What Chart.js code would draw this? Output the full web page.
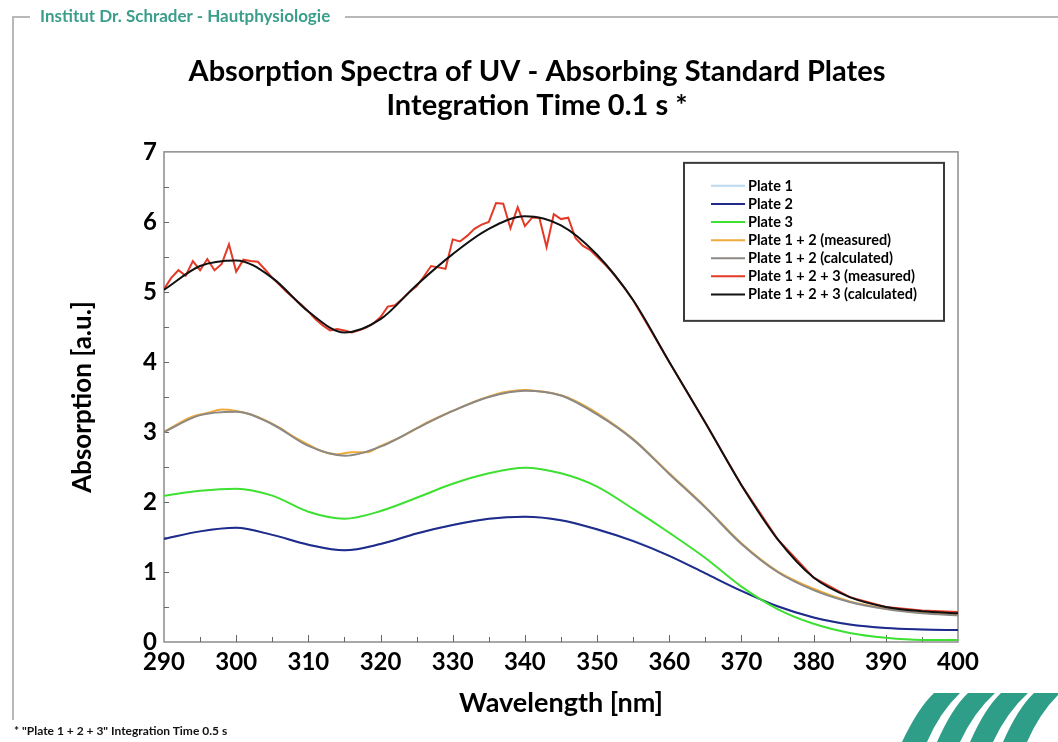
<!DOCTYPE html>
<html>
<head>
<meta charset="utf-8">
<title>Absorption Spectra of UV - Absorbing Standard Plates</title>
<script src="https://cdn.jsdelivr.net/npm/chart.js@4.4.1/dist/chart.umd.min.js"></script>
<style>
  html, body { margin: 0; padding: 0; background: #fff; }
  #page { position: relative; width: 1058px; height: 742px; overflow: hidden; background: #fff; }
  #myChart { position: absolute; left: 0; top: 0; }
  .frame-h { position: absolute; height: 2px; background: #b8b8b8; top: 16px; }
  .frame-v { position: absolute; width: 2px; background: #b8b8b8; left: 12px; top: 16px; height: 704px; }
  .header { position: absolute; left: 40px; top: 5px; font: bold 17px Lato, sans-serif; color: #3a9e8a; white-space: nowrap; }
  .footnote { position: absolute; left: 14px; top: 723px; font: bold 12px Lato, sans-serif; color: #111; white-space: nowrap; }
  #logo { position: absolute; left: 880px; top: 680px; }
</style>
</head>
<body>
<div id="page">
  <canvas id="myChart" width="1058" height="742"></canvas>
  <div class="frame-h" style="left:12px;width:18px"></div>
  <div class="frame-h" style="left:345px;width:713px"></div>
  <div class="frame-v"></div>
  <div class="header">Institut Dr. Schrader - Hautphysiologie</div>
  <div class="footnote">* "Plate 1 + 2 + 3" Integration Time 0.5 s</div>
  <svg id="logo" width="178" height="62" viewBox="880 680 178 62">
    <g fill="#2f9e88">
      <path d="M934 693 L960 693 Q940 712 927 742 L902 742 Q918 708 934 693 Z"/>
      <path d="M968 693 L995 693 Q974 712 960 742 L937 742 Q952 708 968 693 Z"/>
      <path d="M1001 693 L1028 693 Q1007 712 993 742 L970 742 Q985 708 1001 693 Z"/>
      <path d="M1034 693 L1060 693 Q1040 712 1027 742 L1003 742 Q1018 708 1034 693 Z"/>
    </g>
  </svg>
</div>
<script>
const canvas = document.getElementById("myChart");
const ctx = canvas.getContext("2d");

// ðŸ”¹ Chart data
const wavelengths = [290, 295, 300, 305, 310, 315, 320, 325, 330, 335, 340, 345,
                     350, 355, 360, 365, 370, 375, 380, 385, 390, 395, 400];

const plate1 = [1.47, 1.58, 1.63, 1.53, 1.39, 1.31, 1.40, 1.55, 1.67, 1.76, 1.79, 1.74,
                1.60, 1.45, 1.23, 0.98, 0.73, 0.51, 0.35, 0.25, 0.20, 0.18, 0.17];
const plate2 = [1.47, 1.58, 1.63, 1.53, 1.39, 1.31, 1.40, 1.55, 1.67, 1.76, 1.79, 1.74,
                1.61, 1.44, 1.23, 0.98, 0.73, 0.51, 0.35, 0.25, 0.20, 0.18, 0.17];
const plate3 = [2.09, 2.16, 2.19, 2.09, 1.86, 1.76, 1.87, 2.06, 2.26, 2.41, 2.49, 2.41,
                2.22, 1.90, 1.56, 1.20, 0.79, 0.47, 0.26, 0.13, 0.06, 0.03, 0.03];
const plate12Calc = [3.00, 3.24, 3.29, 3.11, 2.80, 2.66, 2.79, 3.05, 3.30, 3.50, 3.59, 3.52,
                     3.25, 2.89, 2.40, 1.92, 1.40, 1.00, 0.74, 0.57, 0.47, 0.41, 0.38];
const plate123Calc = [5.03, 5.37, 5.45, 5.20, 4.72, 4.42, 4.61, 5.10, 5.54, 5.90, 6.08, 5.95,
                      5.53, 4.88, 4.00, 3.13, 2.24, 1.47, 0.92, 0.64, 0.50, 0.44, 0.41];

const wlMeasured12 = [290, 292, 294, 296, 298, 300, 302, 304, 306, 308, 310, 312, 314, 316,
                      318, 320, 322, 324, 326, 328, 330, 332, 334, 336, 338, 340, 342, 344,
                      346, 348, 350, 355, 360, 365, 370, 375, 380, 385, 390, 395, 400];
const plate12Measured = [3.00, 3.12, 3.22, 3.27, 3.32, 3.30, 3.25, 3.17, 3.06, 2.93, 2.82, 2.72,
                         2.68, 2.71, 2.71, 2.80, 2.89, 2.99, 3.11, 3.21, 3.30, 3.39, 3.47, 3.54,
                         3.58, 3.60, 3.58, 3.55, 3.49, 3.39, 3.27, 2.90, 2.41, 1.93, 1.41, 1.01,
                         0.76, 0.58, 0.48, 0.42, 0.39];

const wlMeasured123 = [290, 291, 292, 293, 294, 295, 296, 297, 298, 299, 300, 301, 302, 303,
                       304, 305, 306, 307, 308, 309, 310, 311, 312, 313, 314, 315, 316, 317,
                       318, 319, 320, 321, 322, 323, 324, 325, 326, 327, 328, 329, 330, 331,
                       332, 333, 334, 335, 336, 337, 338, 339, 340, 341, 342, 343, 344, 345,
                       346, 347, 348, 349, 350, 351, 352, 353, 354, 355, 360, 365, 370,
                       375, 380, 385, 390, 395, 400];
const plate123Measured = [5.04, 5.20, 5.31, 5.23, 5.44, 5.31, 5.47, 5.31, 5.40, 5.68, 5.29, 5.46,
                          5.44, 5.43, 5.32, 5.20, 5.10, 5.00, 4.91, 4.82, 4.72, 4.61, 4.52, 4.45,
                          4.47, 4.45, 4.42, 4.45, 4.49, 4.55, 4.64, 4.79, 4.81, 4.90, 5.00, 5.08,
                          5.22, 5.37, 5.35, 5.33, 5.75, 5.72, 5.80, 5.90, 5.96, 6.00, 6.27, 6.26,
                          5.91, 6.21, 5.94, 6.06, 6.06, 5.64, 6.11, 6.04, 6.06, 5.77, 5.66, 5.60,
                          5.50, 5.40, 5.29, 5.16, 5.03, 4.88, 4.00, 3.13, 2.24, 1.47, 0.92,
                          0.64, 0.50, 0.45, 0.43];

const seriesLabels = ["Plate 1", "Plate 2", "Plate 3", "Plate 1 + 2 (measured)",
                      "Plate 1 + 2 (calculated)", "Plate 1 + 2 + 3 (measured)",
                      "Plate 1 + 2 + 3 (calculated)"];
const seriesColors = ["#bcd8f0", "#1f2a8a", "#3ee032", "#eeaa3c", "#8c8884", "#e23a26", "#111111"];

const FONT = "Lato";
Chart.defaults.font.family = FONT;
Chart.defaults.color = "#000";

function toPoints(xs, ys) {
  return xs.map((x, i) => ({ x: x, y: ys[i] }));
}

// ðŸ”¹ Plot frame + inner tick marks
const frameTicks = {
  id: "frameTicks",
  beforeDatasetsDraw(chart) {
    const { ctx, chartArea: a, scales: { x, y } } = chart;
    ctx.save();
    ctx.strokeStyle = "#8c8c8c";
    ctx.lineWidth = 1.5;
    ctx.strokeRect(a.left, a.top, a.right - a.left, a.bottom - a.top);
    ctx.lineWidth = 1;
    ctx.strokeStyle = "#666";
    ctx.beginPath();
    for (let v = x.min + 5; v < x.max; v += 5) {
      const px = Math.round(x.getPixelForValue(v)) + 0.5;
      ctx.moveTo(px, a.bottom);
      ctx.lineTo(px, a.bottom - (v % 10 === 0 ? 7 : 5));
    }
    for (let v = y.min + 0.5; v < y.max; v += 0.5) {
      const py = Math.round(y.getPixelForValue(v)) + 0.5;
      ctx.moveTo(a.left, py);
      ctx.lineTo(a.left + 5, py);
    }
    ctx.stroke();
    ctx.restore();
  }
};

// ðŸ”¹ Legend box inside the plot area
const legendBox = {
  id: "legendBox",
  afterDatasetsDraw(chart) {
    const { ctx, chartArea: a } = chart;
    const boxW = 260, boxH = 158;
    const left = a.right - 14 - boxW;
    const top = a.top + 11;
    ctx.save();
    ctx.fillStyle = "#fff";
    ctx.fillRect(left, top, boxW, boxH);
    ctx.strokeStyle = "#3a3a3a";
    ctx.lineWidth = 2;
    ctx.strokeRect(left, top, boxW, boxH);
    ctx.font = "bold 14.5px " + FONT;
    ctx.textBaseline = "middle";
    ctx.fillStyle = "#000";
    chart.data.datasets.forEach((ds, i) => {
      const rowY = top + 23 + i * 18.1;
      ctx.strokeStyle = ds.borderColor;
      ctx.lineWidth = 2;
      ctx.beginPath();
      ctx.moveTo(left + 27, rowY);
      ctx.lineTo(left + 61, rowY);
      ctx.stroke();
      ctx.fillText(ds.label, left + 64, rowY);
    });
    ctx.restore();
  }
};

const seriesData = [
  toPoints(wavelengths, plate1),
  toPoints(wavelengths, plate2),
  toPoints(wavelengths, plate3),
  toPoints(wlMeasured12, plate12Measured),
  toPoints(wavelengths, plate12Calc),
  toPoints(wlMeasured123, plate123Measured),
  toPoints(wavelengths, plate123Calc)
];

// the noisy measured 1 + 2 + 3 trace is a plain polyline, the rest are smooth
const jaggedSeries = 5;

const datasets = seriesData.map((pts, i) => ({
  label: seriesLabels[i],
  data: pts,
  borderColor: seriesColors[i],
  backgroundColor: seriesColors[i],
  borderWidth: 2,
  pointRadius: 0,
  fill: false,
  // later series are drawn on top
  order: seriesData.length - 1 - i,
  cubicInterpolationMode: i === jaggedSeries ? "default" : "monotone",
  tension: i === jaggedSeries ? 0 : 0.4
}));

const chartInstance = new Chart(ctx, {
  type: "line",
  data: { datasets: datasets },
  options: {
    responsive: false,
    animation: false,
    layout: { padding: { left: 16, right: 0, top: 0, bottom: 0 } },
    plugins: {
      legend: { display: false },
      tooltip: { enabled: false },
      title: {
        display: true,
        text: ["Absorption Spectra of UV - Absorbing Standard Plates", "Integration Time 0.1 s *"],
        font: { size: 29, weight: "bold", lineHeight: 1.17 },
        color: "#000",
        padding: { top: 55, bottom: 29 }
      }
    },
    scales: {
      x: {
        type: "linear",
        min: 290,
        max: 400,
        ticks: { stepSize: 10, padding: 6, font: { size: 24, weight: "bold" }, color: "#000" },
        grid: { display: false, drawTicks: false },
        border: { display: false },
        title: {
          display: true,
          text: "Wavelength [nm]",
          font: { size: 27, weight: "bold" },
          color: "#000",
          padding: { top: 0, bottom: 23 }
        },
        afterFit(scale) { scale.height = 100; }
      },
      y: {
        min: 0,
        max: 7,
        ticks: { stepSize: 1, padding: 7, font: { size: 24, weight: "bold" }, color: "#000" },
        grid: { display: false, drawTicks: false },
        border: { display: false },
        title: {
          display: true,
          text: "Absorption [a.u.]",
          font: { size: 26, weight: "bold" },
          color: "#000",
          padding: { top: 51, bottom: 0 }
        },
        afterFit(scale) { scale.width = 148; }
      },
      yRight: {
        position: "right",
        min: 0,
        max: 7,
        ticks: { display: false },
        grid: { display: false, drawTicks: false },
        border: { display: false },
        afterFit(scale) { scale.width = 100; }
      }
    }
  },
  plugins: [frameTicks, legendBox]
});
</script>
</body>
</html>
